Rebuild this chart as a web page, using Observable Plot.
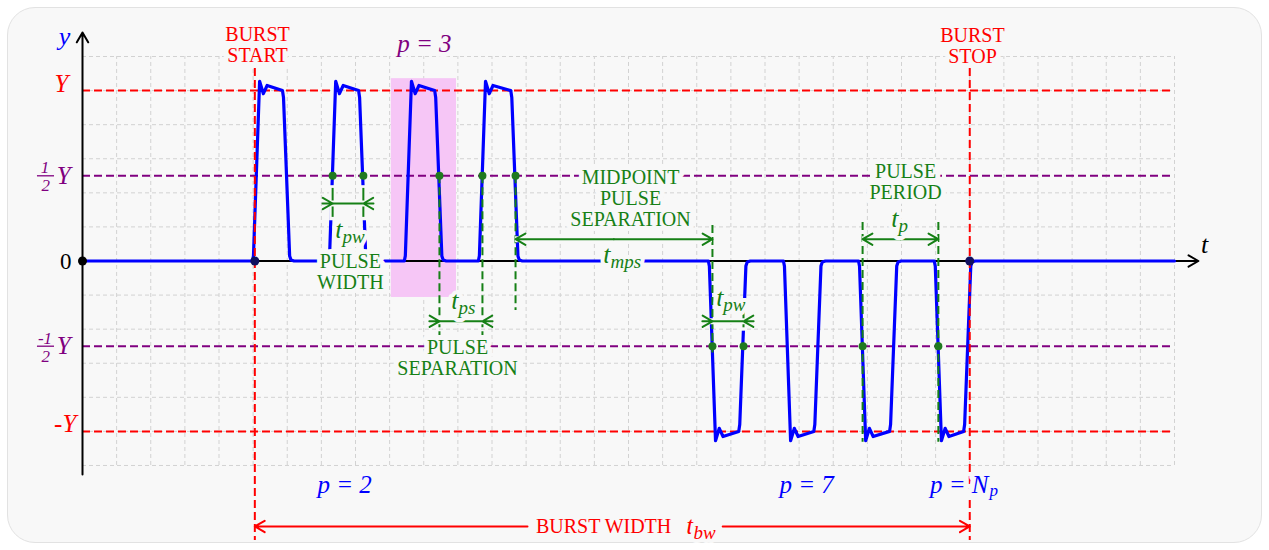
<!DOCTYPE html>
<html><head><meta charset="utf-8">
<script src="https://cdn.jsdelivr.net/npm/d3@7"></script>
<script src="https://cdn.jsdelivr.net/npm/@observablehq/plot@0.6"></script>
<style>
html,body{margin:0;padding:0;background:#fff;}
#wrap{position:relative;width:1269px;height:550px;overflow:hidden;}
#card{position:absolute;left:7px;top:7px;width:1255px;height:536px;background:#f8f8f8;border:1px solid #e2e2e2;border-radius:28px;box-sizing:border-box;}
#chart{position:absolute;left:0;top:0;}
#chart svg, #chart svg text{font-family:"Liberation Serif",serif !important;}
</style></head>
<body><div id="wrap"><div id="card"></div><div id="chart"></div></div>
<script>
// ---------- data ----------
const Y = 5;                       // pulse amplitude (grid units)
const gridT = [1,2,3,4,5,6,7,8,9,10,11,12,13,14,15,16,17,18,19,20,21,22,23,24,25,26,27,28,29,30,31,32];
const gridV = [-6,-5,-4,-3,-2,-1,1,2,3,4,5,6];
const tStart = 0, tEnd = 32;
const burstStart = 5.05, burstStop = 26.0;
// [first edge midpoint, second edge midpoint]
const positivePulses = [[5.10, 6.00], [7.33, 8.23], [9.55, 10.46], [11.72, 12.69]];
const negativePulses = [[18.46, 19.37], [20.66, 21.57], [22.86, 23.79], [25.08, 25.96]];
// pulse edge shape: [edge index, time offset, fraction of amplitude]
const pulseShape = [
  [0,-0.12,0],[0,-0.09,0.03],[0,0.09,1.055],[0,0.2,0.982],[0,0.31,1.03],
  [1,-0.14,1.0],[1,-0.11,0.96],[1,0.07,0.03],[1,0.11,0.006],[1,0.2,0]
];
const refLevels = [{v: Y, kind: "full"}, {v: -Y, kind: "full"}, {v: Y/2, kind: "half"}, {v: -Y/2, kind: "half"}];
const markedEdges = [[7.33, 2.5],[8.23, 2.5],[10.46, 2.5],[11.72, 2.5],[12.69, 2.5],[18.46,-2.5],[19.37,-2.5],[22.86,-2.5],[25.08,-2.5]];
const highlightPulse = {t1: 9.05, t2: 10.96, v1: -1.07, v2: 5.35};

// annotation geometry (grid units)
const extSolid = [{t:7.33,v1:2.13,v2:1.28},{t:8.23,v1:2.13,v2:1.28},{t:19.37,v1:-1.38,v2:-1.96}];
const extDashed = [{t:10.46,v1:2.5,v2:-2.19},{t:11.72,v1:2.5,v2:-2.19},{t:12.69,v1:2.5,v2:-1.45},
                   {t:18.46,v1:1.04,v2:-2.7},{t:22.86,v1:1.13,v2:-5.32},{t:25.08,v1:1.13,v2:-5.32}];
const innerDims = [{t1:7.33,t2:8.23,v:1.687},{t1:10.46,t2:11.72,v:-1.77},{t1:18.46,t2:19.37,v:-1.77}];
const outerDims = [
  {t1:12.69,t2:18.46,v:0.64,kind:"pulse",g1:15.57,g2:15.57},
  {t1:22.86,t2:25.08,v:0.64,kind:"pulse",g1:23.97,g2:23.97},
  {t1:burstStart,t2:burstStop,v:-7.79,kind:"burst",g1:13.04,g2:18.76}
];

const captions = [
  {s:"BURST\nSTART", t:5.13, v:6.34, kind:"burst"},
  {s:"BURST\nSTOP", t:26.08, v:6.32, kind:"burst"},
  {s:"PULSE\nWIDTH", t:7.85, v:-0.32, kind:"pulse"},
  {s:"PULSE\nSEPARATION", t:10.99, v:-2.83, kind:"pulse"},
  {s:"MIDPOINT\nPULSE\nSEPARATION", t:16.06, v:1.83, kind:"pulse"},
  {s:"PULSE\nPERIOD", t:24.12, v:2.33, kind:"pulse"},
  {s:"BURST WIDTH", t:15.27, v:-7.79, kind:"burst"}
];
const timeLabels = [
  {sub:"pw", t:7.62, v:0.689, kind:"pulse"},
  {sub:"ps", t:11.02, v:-1.394, kind:"pulse"},
  {sub:"mps", t:15.47, v:-0.073, kind:"pulse"},
  {sub:"pw", t:18.78, v:-1.306, kind:"pulse"},
  {sub:"p", t:23.91, v:0.983, kind:"pulse"},
  {sub:"bw", t:17.905, v:-7.996, kind:"burst"}
];
const pulseLabels = [
  {s:"p = 3", t:10.02, v:6.118, kind:"pick"},
  {s:"p = 2", t:7.68, v:-6.793, kind:"count"},
  {s:"p = 7", t:21.22, v:-6.793, kind:"count"}
];

// ---------- styles ----------
const RED = "#ff0000", PURPLE = "#800080", GREEN = "#168016", DOTGREEN = "#1f7a1f",
      BLUE = "#0000ff", NAVY = "#101060", BG = "#f8f8f8", GRID = "#d2d2d2", PINK = "#f6c6f6";
const colorOf = {full: RED, half: PURPLE, burst: RED, pulse: GREEN, pick: PURPLE, count: BLUE};
const SERIF = "Liberation Serif";
const halo = {stroke: BG, strokeWidth: 10, strokeLinejoin: "round", paintOrder: "stroke"};

// ---------- derived ----------
const pulses = [...positivePulses.map(e => ({e, a: Y})), ...negativePulses.map(e => ({e, a: -Y}))]
  .sort((p, q) => p.e[0] - q.e[0]);
const wave = [{t: tStart, v: 0}];
for (const {e, a} of pulses) for (const [k, dt, f] of pulseShape) wave.push({t: e[k] + dt, v: a * f});
wave.push({t: tEnd, v: 0});

const inwardArrows = innerDims.flatMap(d => [{from: d.t1 - 1, to: d.t1, v: d.v}, {from: d.t2 + 1, to: d.t2, v: d.v}]);
const outwardArrows = outerDims.flatMap(d => [{from: d.g1, to: d.t1, v: d.v, kind: d.kind}, {from: d.g2, to: d.t2, v: d.v, kind: d.kind}]);

const arrowOpts = {headAngle: 60, headLength: 8.5, strokeWidth: 2};

const plot = Plot.plot({
  width: 1269, height: 550, margin: 0,
  x: {domain: [-82/34.125, (1269-82)/34.125], axis: null},
  y: {domain: [(260.5-550)/34.08, 260.5/34.08], axis: null},
  color: {type: "identity"},
  style: {background: "transparent", overflow: "visible", fontFamily: SERIF},
  marks: [
    // grid
    Plot.ruleX(gridT, {x: d => d, y1: -6, y2: 6, stroke: GRID, strokeWidth: 1, strokeDasharray: "4,3"}),
    Plot.ruleY(gridV, {y: d => d, x1: 0, x2: 32, stroke: GRID, strokeWidth: 1, strokeDasharray: "4,3"}),
    // highlighted pulse p = 3
    Plot.rect([highlightPulse], {x1: "t1", x2: "t2", y1: "v1", y2: "v2", fill: PINK}),
    // reference levels
    Plot.ruleY(refLevels, {y: "v", x1: 0, x2: 32, stroke: d => colorOf[d.kind], strokeWidth: 2, strokeDasharray: "8,4"}),
    // axes
    Plot.arrow([{x1: 0, y1: 0, x2: 32.70, y2: 0}], {x1: "x1", y1: "y1", x2: "x2", y2: "y2", stroke: "black", ...arrowOpts}),
    Plot.arrow([{x1: 0, y1: -6.265, x2: 0, y2: 6.705}], {x1: "x1", y1: "y1", x2: "x2", y2: "y2", stroke: "black", ...arrowOpts}),
    // signal
    Plot.line(wave, {x: "t", y: "v", stroke: BLUE, strokeWidth: 3.2, strokeLinejoin: "round"}),
    // burst start / stop markers
    Plot.ruleX([burstStart, burstStop], {x: d => d, y1: 5.648, y2: -8.2, stroke: RED, strokeWidth: 2, strokeDasharray: "8,4"}),
    // extension lines
    Plot.ruleX(extSolid, {x: "t", y1: d => d.v1 + 0.08, y2: d => d.v2 - 0.1, stroke: BG, strokeWidth: 7}),
    Plot.ruleX(extSolid, {x: "t", y1: "v1", y2: "v2", stroke: GREEN, strokeWidth: 2}),
    Plot.ruleX(extDashed, {x: "t", y1: "v1", y2: "v2", stroke: GREEN, strokeWidth: 2, strokeDasharray: "8,4"}),
    // dimension lines
    Plot.ruleY(innerDims, {y: "v", x1: d => d.t1 - 0.29, x2: d => d.t2 + 0.29, stroke: BG, strokeWidth: 6}),
    Plot.ruleY(innerDims, {y: "v", x1: "t1", x2: "t2", stroke: GREEN, strokeWidth: 2}),
    Plot.arrow(inwardArrows, {x1: "from", x2: "to", y1: "v", y2: "v", stroke: GREEN, insetStart: 24, ...arrowOpts}),
    Plot.ruleY(outerDims.filter(d => d.kind === "pulse"), {y: "v", x1: "t1", x2: "t2", stroke: BG, strokeWidth: 6}),
    Plot.arrow(outwardArrows, {x1: "from", x2: "to", y1: "v", y2: "v", stroke: d => colorOf[d.kind], ...arrowOpts}),
    // points
    Plot.dot([[tStart, 0]], {x: d => d[0], y: d => d[1], r: 4.5, fill: "black"}),
    Plot.dot([[burstStart, 0], [burstStop, 0]], {x: d => d[0], y: d => d[1], r: 4.5, fill: NAVY}),
    Plot.dot(markedEdges, {x: d => d[0], y: d => d[1], r: 4, fill: DOTGREEN}),
    // captions
    Plot.text(captions, {x: "t", y: "v", text: "s", fill: d => colorOf[d.kind], fontFamily: SERIF, fontSize: 20, lineHeight: 1.05, ...halo}),
    Plot.text(timeLabels, {x: "t", y: "v", text: () => "t", fill: d => colorOf[d.kind], fontFamily: SERIF, fontStyle: "italic", fontSize: 26, textAnchor: "end", lineAnchor: "bottom", ...halo, strokeWidth: 8}),
    Plot.text(timeLabels, {x: "t", y: "v", text: "sub", fill: d => colorOf[d.kind], fontFamily: SERIF, fontStyle: "italic", fontSize: 19, textAnchor: "start", lineAnchor: "bottom", dy: 5, ...halo, strokeWidth: 8}),
    Plot.text(pulseLabels, {x: "t", y: "v", text: "s", fill: d => colorOf[d.kind], fontFamily: SERIF, fontStyle: "italic", fontSize: 25, lineAnchor: "bottom", ...halo}),
    Plot.text([{t: 26.55, v: -6.793}], {x: "t", y: "v", text: () => "p = N", fill: BLUE, fontFamily: SERIF, fontStyle: "italic", fontSize: 25, textAnchor: "end", lineAnchor: "bottom", ...halo}),
    Plot.text([{t: 26.58, v: -6.793}], {x: "t", y: "v", text: () => "p", fill: BLUE, fontFamily: SERIF, fontStyle: "italic", fontSize: 17, textAnchor: "start", lineAnchor: "bottom", dy: 3, ...halo, strokeWidth: 6}),
    // axis labels
    Plot.text([{t: -0.53, v: 6.59}], {x: "t", y: "v", text: () => "y", fill: BLUE, fontFamily: SERIF, fontStyle: "italic", fontSize: 26}),
    Plot.text([{t: 32.88, v: 0.48}], {x: "t", y: "v", text: () => "t", fill: "black", fontFamily: SERIF, fontStyle: "italic", fontSize: 26}),
    // y tick labels
    Plot.text([{v: Y, s: "Y", t: -0.41}, {v: -Y, s: "-Y", t: -0.18}], {x: "t", y: "v", text: "s", fill: RED, fontFamily: SERIF, fontStyle: "italic", fontSize: 25, textAnchor: "end", dy: -7}),
    Plot.text([{v: 0, s: "0"}], {x: -0.32, y: "v", text: "s", fill: "black", fontFamily: SERIF, fontSize: 23, textAnchor: "end", dy: 1}),
    Plot.text([Y/2, -Y/2], {x: -0.35, y: d => d, text: () => "Y", fill: PURPLE, fontFamily: SERIF, fontStyle: "italic", fontSize: 25, textAnchor: "end", dy: 0}),
    Plot.text([{v: Y/2, s: "1"}, {v: -Y/2, s: "-1"}], {x: -1.1, y: "v", text: "s", fill: PURPLE, fontFamily: SERIF, fontStyle: "italic", fontSize: 17, dy: -8}),
    Plot.text([Y/2, -Y/2], {x: -1.08, y: d => d, text: () => "2", fill: PURPLE, fontFamily: SERIF, fontStyle: "italic", fontSize: 17, dy: 10}),
    Plot.ruleY([Y/2, -Y/2], {y: d => d, x1: -1.32, x2: -0.82, stroke: PURPLE, strokeWidth: 1.3})
  ]
});
document.getElementById("chart").append(plot);
</script></body></html>
